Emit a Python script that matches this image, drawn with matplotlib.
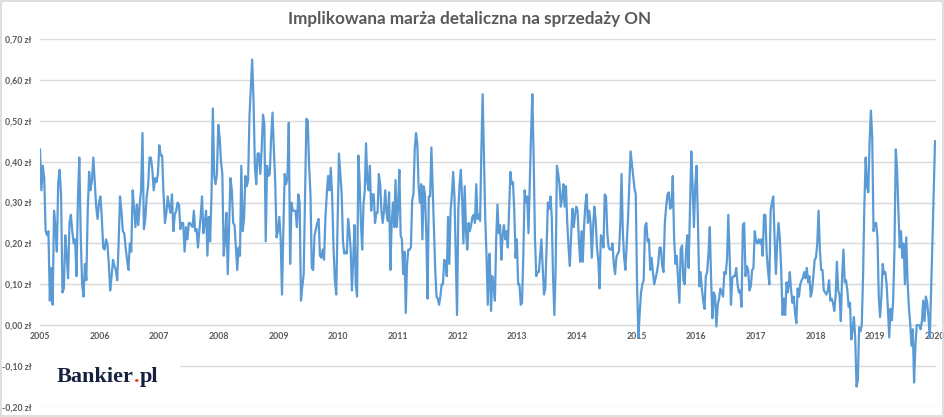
import matplotlib.pyplot as plt
import matplotlib.dates as mdates
import matplotlib.transforms as mtransforms
from matplotlib.patches import Rectangle
from matplotlib.ticker import FuncFormatter, MultipleLocator
import numpy as np
import pandas as pd

# implied retail margin on diesel (ON), PLN per litre, roughly weekly readings
margin_2005_2007 = [
    0.43, 0.33, 0.39, 0.36, 0.23, 0.22, 0.23, 0.06, 0.14, 0.05, 0.28, 0.24, 0.18, 0.35, 0.38,
    0.32, 0.08, 0.09, 0.22, 0.17, 0.115, 0.25, 0.27, 0.23, 0.20, 0.21, 0.12, 0.31, 0.41, 0.22,
    0.10, 0.07, 0.15, 0.11, 0.28, 0.375, 0.33, 0.355, 0.41, 0.35, 0.29, 0.26, 0.30,
    0.315, 0.265, 0.19, 0.185, 0.21, 0.20, 0.15, 0.085, 0.12, 0.16, 0.145, 0.135, 0.11, 0.20,
    0.315, 0.28, 0.23, 0.225, 0.19, 0.16, 0.135, 0.20, 0.18, 0.33, 0.29, 0.24, 0.295, 0.245,
    0.295, 0.33, 0.47, 0.235, 0.26, 0.315, 0.34, 0.41, 0.41, 0.38, 0.33, 0.36, 0.35, 0.37,
    0.44, 0.415,
    0.415, 0.32, 0.25, 0.275, 0.315, 0.29, 0.275, 0.32, 0.23, 0.27, 0.28, 0.30, 0.295, 0.235,
    0.25, 0.25, 0.18, 0.24, 0.21, 0.25,
]
margin_2007_2010 = [
    0.25, 0.245, 0.24, 0.28, 0.23, 0.235, 0.19, 0.23, 0.265, 0.315, 0.225, 0.25, 0.28, 0.17,
    0.265, 0.205, 0.315, 0.53, 0.365, 0.345, 0.37, 0.49, 0.46, 0.40, 0.37, 0.17, 0.21, 0.275,
    0.125, 0.24, 0.36, 0.33, 0.25, 0.245, 0.19, 0.135, 0.19, 0.17, 0.39, 0.23, 0.26, 0.365,
    0.34, 0.355, 0.51, 0.58, 0.65, 0.55, 0.39, 0.345, 0.42, 0.42, 0.37, 0.43, 0.515, 0.49,
    0.205, 0.39, 0.365, 0.37, 0.46, 0.52, 0.43, 0.35, 0.215, 0.23, 0.265, 0.215, 0.075, 0.235,
    0.37, 0.345, 0.36, 0.495, 0.15, 0.30, 0.28, 0.28, 0.28, 0.24, 0.32, 0.30, 0.06, 0.095,
    0.125, 0.31, 0.505, 0.50, 0.39, 0.32, 0.14, 0.135, 0.22, 0.235, 0.25, 0.26, 0.17, 0.165,
    0.185, 0.16, 0.26, 0.32, 0.365, 0.33, 0.385, 0.315, 0.19, 0.11, 0.075, 0.25, 0.42,
]
margin_2010_2012 = [
    0.365, 0.32, 0.205, 0.175, 0.18, 0.175, 0.26, 0.23, 0.185, 0.085, 0.16, 0.245, 0.10, 0.07,
    0.415, 0.35, 0.25, 0.185, 0.295, 0.33, 0.445, 0.35, 0.33, 0.39, 0.28, 0.32, 0.32, 0.25,
    0.275, 0.275, 0.37, 0.345, 0.28, 0.25, 0.28, 0.33, 0.275, 0.255, 0.325, 0.135, 0.25, 0.30,
    0.24, 0.355, 0.24, 0.29, 0.38, 0.22, 0.21, 0.125, 0.18, 0.03, 0.15, 0.185, 0.185, 0.19,
    0.305, 0.32, 0.43, 0.47, 0.445, 0.34, 0.30, 0.345, 0.21, 0.34, 0.32, 0.225, 0.065, 0.315,
    0.315, 0.435, 0.335, 0.24, 0.135, 0.07, 0.065, 0.05, 0.07, 0.10, 0.10, 0.16, 0.155, 0.12,
    0.265, 0.15, 0.28, 0.32, 0.375, 0.315, 0.175, 0.025, 0.28, 0.345, 0.38, 0.305, 0.20, 0.34,
    0.23, 0.185, 0.25, 0.23, 0.245, 0.265, 0.27, 0.25, 0.345, 0.26, 0.27, 0.255, 0.43, 0.565,
    0.42, 0.265, 0.17, 0.05, 0.17,
]
margin_2012_2015 = [
    0.175, 0.035, 0.12, 0.095, 0.06, 0.21, 0.295, 0.225, 0.245, 0.16, 0.22, 0.245, 0.21, 0.23,
    0.19, 0.28, 0.375, 0.345, 0.35, 0.28, 0.165, 0.21, 0.10, 0.10, 0.05, 0.055, 0.17, 0.33,
    0.30, 0.315, 0.225, 0.345, 0.47, 0.565, 0.41, 0.215, 0.12, 0.13, 0.13, 0.17, 0.21, 0.14,
    0.075, 0.09, 0.19, 0.30, 0.285, 0.315, 0.265, 0.12, 0.025, 0.135, 0.39, 0.37, 0.345, 0.29,
    0.31, 0.345, 0.29, 0.34, 0.25, 0.19, 0.145, 0.22, 0.285, 0.24, 0.27, 0.29, 0.28, 0.205,
    0.155, 0.23, 0.155, 0.24, 0.295, 0.32, 0.25, 0.28, 0.25, 0.165, 0.24, 0.29, 0.255, 0.19,
    0.16, 0.09, 0.22, 0.215, 0.19, 0.32, 0.315, 0.225, 0.19, 0.185, 0.185, 0.20, 0.15, 0.125,
    0.165, 0.175, 0.18, 0.245, 0.37, 0.23, 0.165, 0.135, 0.20, 0.26, 0.345, 0.425, 0.395,
    0.365, 0.335, 0.32,
]
margin_2015_2017 = [
    0.10, -0.03, 0.03, 0.08, 0.10, 0.11, 0.24, 0.25, 0.205, 0.21, 0.135, 0.165, 0.13, 0.10,
    0.115, 0.13, 0.15, 0.19, 0.19, 0.145, 0.13, 0.25, 0.29, 0.32, 0.325, 0.285, 0.29, 0.365,
    0.215, 0.15, 0.17, 0.11, 0.055, 0.185, 0.195, 0.11, 0.10, 0.18, 0.22, 0.14, 0.28, 0.425,
    0.34, 0.24, 0.34, 0.39, 0.26, 0.095, 0.13, 0.09, 0.06, 0.04, 0.12, 0.13, 0.175, 0.24, 0.11,
    0.017, 0.08, 0.07, -0.003, 0.05, 0.065, 0.09, 0.08, 0.07, 0.13, 0.125, 0.16, 0.27, 0.17,
    0.05, 0.115, 0.12, 0.12, 0.14, 0.10, 0.08, 0.085, 0.045, 0.245, 0.25, 0.12, 0.145, 0.135,
    0.085, 0.095, 0.135, 0.14, 0.23, 0.205, 0.20, 0.21, 0.20, 0.21, 0.17, 0.27, 0.27, 0.175,
    0.135, 0.10, 0.28, 0.30, 0.315, 0.21, 0.125, 0.205, 0.25, 0.21, 0.135, 0.025, 0.065,
    0.025, 0.105, 0.08, 0.11,
]
margin_2017_2020 = [
    0.13, 0.085, 0.055, 0.07, 0.03, 0.005, 0.09, 0.07, 0.10, 0.11, 0.115, 0.13, 0.115, 0.14,
    0.105, 0.12, 0.07, 0.085, 0.12, 0.16, 0.165, 0.20, 0.28, 0.185, 0.135, 0.135, 0.085, 0.08,
    0.075, 0.085, 0.11, 0.06, 0.065, 0.055, 0.035, 0.07, 0.155, 0.085, 0.075, 0.01, 0.12,
    0.185, 0.105, 0.11, 0.085, 0.045, 0.055, -0.035, -0.01, 0.02, -0.03, -0.15, -0.135,
    -0.005, -0.015, 0.00, 0.12, 0.295, 0.41, 0.34, 0.325, 0.45, 0.525, 0.46, 0.23, 0.25, 0.25,
    0.215, 0.07, 0.02, 0.07, 0.15, 0.125, 0.13, 0.10, 0.04, -0.03, 0.04, 0.012, 0.06, 0.185,
    0.43, 0.38, 0.28, 0.19, 0.23, 0.165, 0.20, 0.10, 0.215, 0.11, 0.045, 0.005, -0.05, -0.01,
    -0.14, -0.05, 0.00, 0.00, 0.00, -0.01, 0.01, 0.06, 0.01, 0.07, 0.055, 0.02, -0.03, 0.085,
    0.20, 0.33, 0.45,
]

# first and last date covered by each block of readings
segments = [
    (margin_2005_2007, "2005-01-01", "2007-07-01"),
    (margin_2007_2010, "2007-07-07", "2010-01-05"),
    (margin_2010_2012, "2010-01-14", "2012-07-12"),
    (margin_2012_2015, "2012-07-16", "2014-12-27"),
    (margin_2015_2017, "2015-01-04", "2017-07-23"),
    (margin_2017_2020, "2017-07-27", "2020-01-02"),
]

dates = []
margin = []
for vals, start, end in segments:
    dates.extend(pd.date_range(start, end, periods=len(vals)))
    margin.extend(vals)
dates = pd.DatetimeIndex(dates)
margin = np.array(margin)

title = "Implikowana marża detaliczna na sprzedaży ON"
grey = "#595959"
grid_col = "#d9d9d9"
blue = "#5b9bd5"

plt.rcParams["font.family"] = ["Lato", "DejaVu Sans"]

fig = plt.figure(figsize=(9.45, 4.17), dpi=100)
ax = fig.add_axes([40 / 945, 10 / 417, 896 / 945, 368 / 417])

ax.plot(dates, margin, color=blue, lw=1.6, zorder=3, solid_joinstyle="round")

ax.set_ylim(-0.2, 0.7)
ax.set_xlim(pd.Timestamp("2005-01-01"), pd.Timestamp("2020-01-08"))
ax.yaxis.set_major_locator(MultipleLocator(0.1))
ax.yaxis.set_major_formatter(FuncFormatter(lambda v, p: f"{v:.2f} zł".replace(".", ",")))
ax.grid(axis="y", color=grid_col, lw=1.0, zorder=0)
ax.set_axisbelow(True)

ax.xaxis.set_major_locator(mdates.YearLocator())
ax.xaxis.set_major_formatter(mdates.DateFormatter("%Y"))

for s in ["top", "right", "left"]:
    ax.spines[s].set_visible(False)
ax.spines["bottom"].set_position(("data", 0))
ax.spines["bottom"].set_color(grid_col)
ax.tick_params(axis="both", length=0, labelsize=6.3, labelcolor=grey)
ax.tick_params(axis="x", pad=5)
ax.tick_params(axis="y", pad=6)
for lab in ax.get_xticklabels() + ax.get_yticklabels():
    lab.set_fontweight("bold")

# white patch behind the logo hides the -0,10 gridline there
tr = mtransforms.blended_transform_factory(ax.transAxes, ax.transData)
ax.add_patch(Rectangle((0, -0.14), 0.155, 0.08, transform=tr, color="white", zorder=1))

fig.text(0.497, 0.955, title, ha="center", va="center", fontsize=12.3,
         fontweight="bold", color=grey)

# Bankier.pl logo: three pieces laid side by side, red dot in the middle
logo_font = dict(fontsize=16, fontweight="bold", family="Liberation Serif", va="baseline")
renderer = fig.canvas.get_renderer()
x = 57 / 945
for piece, col in [("Bankier", "#16213e"), (".", "#e8452c"), ("pl", "#16213e")]:
    t = fig.text(x, 0.083, piece, color=col, **logo_font)
    x += t.get_window_extent(renderer).width / fig.bbox.width

fig.patches.append(Rectangle((0.001, 0.002), 0.997, 0.995, transform=fig.transFigure,
                             fill=False, edgecolor=grid_col, lw=1.2))

fig.savefig("out.png", dpi=100)
